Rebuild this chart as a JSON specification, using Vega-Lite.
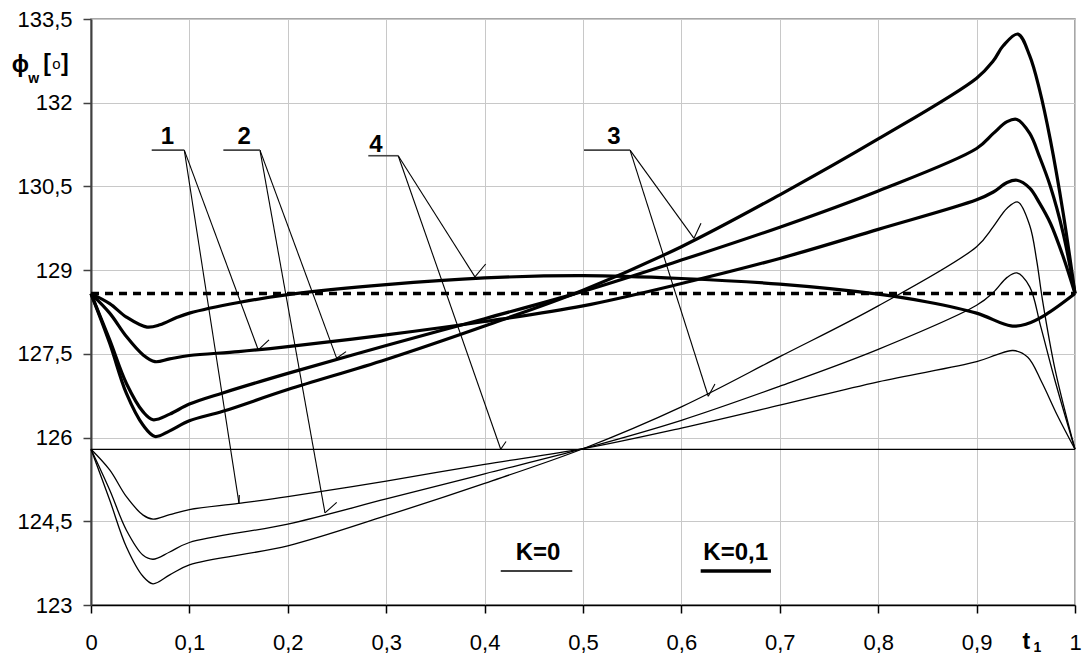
{
  "$schema": "https://vega.github.io/schema/vega-lite/v6.json",
  "width": 984,
  "height": 586,
  "autosize": {"type": "none"},
  "padding": {"left": 91, "top": 19, "right": 7, "bottom": 49},
  "background": "white",
  "config": {
    "view": {"stroke": "#8a8a8a", "strokeWidth": 1.5},
    "font": "Liberation Sans",
    "axis": {"gridColor": "#c8c8c8", "gridWidth": 1, "labelFont": "Liberation Sans", "labelFontSize": 22, "labelColor": "#000"}
  },
  "datasets": {
    "curves": [
      {"curve": "4", "k": "0,1", "t": 0, "v": 128.58},
      {"curve": "4", "k": "0,1", "t": 0.019, "v": 128.4},
      {"curve": "4", "k": "0,1", "t": 0.036, "v": 128.16},
      {"curve": "4", "k": "0,1", "t": 0.057, "v": 127.98},
      {"curve": "4", "k": "0,1", "t": 0.07, "v": 128.02},
      {"curve": "4", "k": "0,1", "t": 0.087, "v": 128.15},
      {"curve": "4", "k": "0,1", "t": 0.1, "v": 128.23},
      {"curve": "4", "k": "0,1", "t": 0.15, "v": 128.42},
      {"curve": "4", "k": "0,1", "t": 0.2, "v": 128.56},
      {"curve": "4", "k": "0,1", "t": 0.3, "v": 128.74},
      {"curve": "4", "k": "0,1", "t": 0.4, "v": 128.86},
      {"curve": "4", "k": "0,1", "t": 0.5, "v": 128.9},
      {"curve": "4", "k": "0,1", "t": 0.6, "v": 128.85},
      {"curve": "4", "k": "0,1", "t": 0.7, "v": 128.75},
      {"curve": "4", "k": "0,1", "t": 0.8, "v": 128.57},
      {"curve": "4", "k": "0,1", "t": 0.85, "v": 128.43},
      {"curve": "4", "k": "0,1", "t": 0.9, "v": 128.23},
      {"curve": "4", "k": "0,1", "t": 0.935, "v": 128.0},
      {"curve": "4", "k": "0,1", "t": 0.95, "v": 128.03},
      {"curve": "4", "k": "0,1", "t": 0.97, "v": 128.2},
      {"curve": "4", "k": "0,1", "t": 1.0, "v": 128.58},

      {"curve": "1", "k": "0,1", "t": 0, "v": 128.58},
      {"curve": "1", "k": "0,1", "t": 0.019, "v": 128.23},
      {"curve": "1", "k": "0,1", "t": 0.036, "v": 127.81},
      {"curve": "1", "k": "0,1", "t": 0.053, "v": 127.48},
      {"curve": "1", "k": "0,1", "t": 0.065, "v": 127.36},
      {"curve": "1", "k": "0,1", "t": 0.08, "v": 127.41},
      {"curve": "1", "k": "0,1", "t": 0.1, "v": 127.47},
      {"curve": "1", "k": "0,1", "t": 0.15, "v": 127.54},
      {"curve": "1", "k": "0,1", "t": 0.2, "v": 127.63},
      {"curve": "1", "k": "0,1", "t": 0.3, "v": 127.84},
      {"curve": "1", "k": "0,1", "t": 0.4, "v": 128.08},
      {"curve": "1", "k": "0,1", "t": 0.5, "v": 128.36},
      {"curve": "1", "k": "0,1", "t": 0.6, "v": 128.76},
      {"curve": "1", "k": "0,1", "t": 0.7, "v": 129.21},
      {"curve": "1", "k": "0,1", "t": 0.8, "v": 129.73},
      {"curve": "1", "k": "0,1", "t": 0.9, "v": 130.26},
      {"curve": "1", "k": "0,1", "t": 0.917, "v": 130.4},
      {"curve": "1", "k": "0,1", "t": 0.931, "v": 130.57},
      {"curve": "1", "k": "0,1", "t": 0.941, "v": 130.61},
      {"curve": "1", "k": "0,1", "t": 0.954, "v": 130.47},
      {"curve": "1", "k": "0,1", "t": 0.964, "v": 130.2},
      {"curve": "1", "k": "0,1", "t": 0.975, "v": 129.84},
      {"curve": "1", "k": "0,1", "t": 0.988, "v": 129.24},
      {"curve": "1", "k": "0,1", "t": 1.0, "v": 128.58},

      {"curve": "2", "k": "0,1", "t": 0, "v": 128.58},
      {"curve": "2", "k": "0,1", "t": 0.019, "v": 127.75},
      {"curve": "2", "k": "0,1", "t": 0.036, "v": 126.97},
      {"curve": "2", "k": "0,1", "t": 0.053, "v": 126.46},
      {"curve": "2", "k": "0,1", "t": 0.063, "v": 126.32},
      {"curve": "2", "k": "0,1", "t": 0.08, "v": 126.42},
      {"curve": "2", "k": "0,1", "t": 0.1, "v": 126.6},
      {"curve": "2", "k": "0,1", "t": 0.134, "v": 126.8},
      {"curve": "2", "k": "0,1", "t": 0.2, "v": 127.15},
      {"curve": "2", "k": "0,1", "t": 0.3, "v": 127.65},
      {"curve": "2", "k": "0,1", "t": 0.4, "v": 128.13},
      {"curve": "2", "k": "0,1", "t": 0.5, "v": 128.62},
      {"curve": "2", "k": "0,1", "t": 0.6, "v": 129.18},
      {"curve": "2", "k": "0,1", "t": 0.7, "v": 129.77},
      {"curve": "2", "k": "0,1", "t": 0.8, "v": 130.42},
      {"curve": "2", "k": "0,1", "t": 0.9, "v": 131.18},
      {"curve": "2", "k": "0,1", "t": 0.917, "v": 131.45},
      {"curve": "2", "k": "0,1", "t": 0.931, "v": 131.66},
      {"curve": "2", "k": "0,1", "t": 0.941, "v": 131.7},
      {"curve": "2", "k": "0,1", "t": 0.954, "v": 131.45},
      {"curve": "2", "k": "0,1", "t": 0.964, "v": 131.03},
      {"curve": "2", "k": "0,1", "t": 0.975, "v": 130.5},
      {"curve": "2", "k": "0,1", "t": 0.988, "v": 129.66},
      {"curve": "2", "k": "0,1", "t": 1.0, "v": 128.58},

      {"curve": "3", "k": "0,1", "t": 0, "v": 128.58},
      {"curve": "3", "k": "0,1", "t": 0.019, "v": 127.69},
      {"curve": "3", "k": "0,1", "t": 0.036, "v": 126.79},
      {"curve": "3", "k": "0,1", "t": 0.053, "v": 126.22},
      {"curve": "3", "k": "0,1", "t": 0.065, "v": 126.02},
      {"curve": "3", "k": "0,1", "t": 0.08, "v": 126.12},
      {"curve": "3", "k": "0,1", "t": 0.1, "v": 126.3},
      {"curve": "3", "k": "0,1", "t": 0.134, "v": 126.47},
      {"curve": "3", "k": "0,1", "t": 0.2, "v": 126.86},
      {"curve": "3", "k": "0,1", "t": 0.3, "v": 127.4},
      {"curve": "3", "k": "0,1", "t": 0.4, "v": 128.0},
      {"curve": "3", "k": "0,1", "t": 0.5, "v": 128.64},
      {"curve": "3", "k": "0,1", "t": 0.6, "v": 129.42},
      {"curve": "3", "k": "0,1", "t": 0.7, "v": 130.35},
      {"curve": "3", "k": "0,1", "t": 0.8, "v": 131.35},
      {"curve": "3", "k": "0,1", "t": 0.9, "v": 132.44},
      {"curve": "3", "k": "0,1", "t": 0.917, "v": 132.75},
      {"curve": "3", "k": "0,1", "t": 0.927, "v": 133.02},
      {"curve": "3", "k": "0,1", "t": 0.942, "v": 133.23},
      {"curve": "3", "k": "0,1", "t": 0.954, "v": 132.84},
      {"curve": "3", "k": "0,1", "t": 0.964, "v": 132.23},
      {"curve": "3", "k": "0,1", "t": 0.975, "v": 131.33},
      {"curve": "3", "k": "0,1", "t": 0.988, "v": 130.02},
      {"curve": "3", "k": "0,1", "t": 1.0, "v": 128.58},

      {"curve": "4", "k": "0", "t": 0, "v": 125.79},
      {"curve": "4", "k": "0", "t": 1, "v": 125.79},

      {"curve": "1", "k": "0", "t": 0, "v": 125.79},
      {"curve": "1", "k": "0", "t": 0.019, "v": 125.42},
      {"curve": "1", "k": "0", "t": 0.036, "v": 124.94},
      {"curve": "1", "k": "0", "t": 0.053, "v": 124.61},
      {"curve": "1", "k": "0", "t": 0.063, "v": 124.54},
      {"curve": "1", "k": "0", "t": 0.08, "v": 124.62},
      {"curve": "1", "k": "0", "t": 0.1, "v": 124.71},
      {"curve": "1", "k": "0", "t": 0.15, "v": 124.82},
      {"curve": "1", "k": "0", "t": 0.2, "v": 124.94},
      {"curve": "1", "k": "0", "t": 0.3, "v": 125.22},
      {"curve": "1", "k": "0", "t": 0.4, "v": 125.52},
      {"curve": "1", "k": "0", "t": 0.5, "v": 125.8},
      {"curve": "1", "k": "0", "t": 0.6, "v": 126.17},
      {"curve": "1", "k": "0", "t": 0.7, "v": 126.58},
      {"curve": "1", "k": "0", "t": 0.8, "v": 127.0},
      {"curve": "1", "k": "0", "t": 0.9, "v": 127.36},
      {"curve": "1", "k": "0", "t": 0.92, "v": 127.48},
      {"curve": "1", "k": "0", "t": 0.937, "v": 127.56},
      {"curve": "1", "k": "0", "t": 0.952, "v": 127.44},
      {"curve": "1", "k": "0", "t": 0.966, "v": 127.0},
      {"curve": "1", "k": "0", "t": 0.982, "v": 126.4},
      {"curve": "1", "k": "0", "t": 1.0, "v": 125.79},

      {"curve": "2", "k": "0", "t": 0, "v": 125.79},
      {"curve": "2", "k": "0", "t": 0.019, "v": 125.06},
      {"curve": "2", "k": "0", "t": 0.036, "v": 124.34},
      {"curve": "2", "k": "0", "t": 0.053, "v": 123.89},
      {"curve": "2", "k": "0", "t": 0.063, "v": 123.82},
      {"curve": "2", "k": "0", "t": 0.08, "v": 123.95},
      {"curve": "2", "k": "0", "t": 0.1, "v": 124.12},
      {"curve": "2", "k": "0", "t": 0.2, "v": 124.45},
      {"curve": "2", "k": "0", "t": 0.3, "v": 124.9},
      {"curve": "2", "k": "0", "t": 0.4, "v": 125.35},
      {"curve": "2", "k": "0", "t": 0.5, "v": 125.8},
      {"curve": "2", "k": "0", "t": 0.6, "v": 126.31},
      {"curve": "2", "k": "0", "t": 0.7, "v": 126.92},
      {"curve": "2", "k": "0", "t": 0.8, "v": 127.58},
      {"curve": "2", "k": "0", "t": 0.9, "v": 128.37},
      {"curve": "2", "k": "0", "t": 0.917, "v": 128.6},
      {"curve": "2", "k": "0", "t": 0.931, "v": 128.87},
      {"curve": "2", "k": "0", "t": 0.941, "v": 128.95},
      {"curve": "2", "k": "0", "t": 0.954, "v": 128.7},
      {"curve": "2", "k": "0", "t": 0.965, "v": 128.0},
      {"curve": "2", "k": "0", "t": 0.98, "v": 127.0},
      {"curve": "2", "k": "0", "t": 1.0, "v": 125.79},

      {"curve": "3", "k": "0", "t": 0, "v": 125.79},
      {"curve": "3", "k": "0", "t": 0.019, "v": 124.88},
      {"curve": "3", "k": "0", "t": 0.036, "v": 124.04},
      {"curve": "3", "k": "0", "t": 0.053, "v": 123.51},
      {"curve": "3", "k": "0", "t": 0.063, "v": 123.38},
      {"curve": "3", "k": "0", "t": 0.08, "v": 123.54},
      {"curve": "3", "k": "0", "t": 0.1, "v": 123.72},
      {"curve": "3", "k": "0", "t": 0.2, "v": 124.06},
      {"curve": "3", "k": "0", "t": 0.3, "v": 124.6},
      {"curve": "3", "k": "0", "t": 0.4, "v": 125.18},
      {"curve": "3", "k": "0", "t": 0.5, "v": 125.8},
      {"curve": "3", "k": "0", "t": 0.6, "v": 126.55},
      {"curve": "3", "k": "0", "t": 0.7, "v": 127.45},
      {"curve": "3", "k": "0", "t": 0.8, "v": 128.36},
      {"curve": "3", "k": "0", "t": 0.9, "v": 129.42},
      {"curve": "3", "k": "0", "t": 0.917, "v": 129.78},
      {"curve": "3", "k": "0", "t": 0.931, "v": 130.11},
      {"curve": "3", "k": "0", "t": 0.942, "v": 130.22},
      {"curve": "3", "k": "0", "t": 0.954, "v": 129.8},
      {"curve": "3", "k": "0", "t": 0.961, "v": 129.18},
      {"curve": "3", "k": "0", "t": 0.967, "v": 128.46},
      {"curve": "3", "k": "0", "t": 0.98, "v": 127.2},
      {"curve": "3", "k": "0", "t": 1.0, "v": 125.79}
    ],
    "reference": [
      {"t": 0, "v": 128.58},
      {"t": 1, "v": 128.58}
    ],
    "leaders": [
      {"x": 0.0948, "y": 131.15, "x2": 0.17, "y2": 127.57},
      {"x": 0.0948, "y": 131.15, "x2": 0.1504, "y2": 124.82},
      {"x": 0.1717, "y": 131.15, "x2": 0.2497, "y2": 127.42},
      {"x": 0.1717, "y": 131.15, "x2": 0.2378, "y2": 124.65},
      {"x": 0.3122, "y": 131.05, "x2": 0.3902, "y2": 128.88},
      {"x": 0.3122, "y": 131.05, "x2": 0.4164, "y2": 125.79},
      {"x": 0.5478, "y": 131.15, "x2": 0.6128, "y2": 129.57},
      {"x": 0.5478, "y": 131.15, "x2": 0.6273, "y2": 126.74},
      {"x": 0.17, "y": 127.57, "x2": 0.1809, "y2": 127.75},
      {"x": 0.1504, "y": 124.82, "x2": 0.1507, "y2": 124.97},
      {"x": 0.2497, "y": 127.42, "x2": 0.2592, "y2": 127.54},
      {"x": 0.2378, "y": 124.65, "x2": 0.2497, "y2": 124.84},
      {"x": 0.3902, "y": 128.88, "x2": 0.4011, "y2": 129.11},
      {"x": 0.4164, "y": 125.79, "x2": 0.4218, "y2": 125.93},
      {"x": 0.6128, "y": 129.57, "x2": 0.6199, "y2": 129.84},
      {"x": 0.6273, "y": 126.74, "x2": 0.6341, "y2": 126.96}
    ],
    "underlines": [
      {"x": 0.0617, "x2": 0.0948, "y": 131.15},
      {"x": 0.1345, "x2": 0.1717, "y": 131.15},
      {"x": 0.2818, "x2": 0.3122, "y": 131.05},
      {"x": 0.501, "x2": 0.5478, "y": 131.15}
    ],
    "keys": [
      {"k": "0", "x": 0.4164, "x2": 0.4891, "y": 123.61},
      {"k": "0,1", "x": 0.6196, "x2": 0.691, "y": 123.61}
    ],
    "labels": [
      {"text": "1", "x": 0.0777, "y": 131.26},
      {"text": "2", "x": 0.1557, "y": 131.26},
      {"text": "4", "x": 0.2895, "y": 131.12},
      {"text": "3", "x": 0.5315, "y": 131.26},
      {"text": "K=0", "x": 0.4543, "y": 123.8},
      {"text": "K=0,1", "x": 0.6552, "y": 123.8}
    ],
    "titles": [
      {"text": "ϕ", "x": -0.0806, "y": 132.55},
      {"text": "[", "x": -0.0485, "y": 132.56},
      {"text": "]", "x": -0.0305, "y": 132.56},
      {"text": "t", "x": 0.9466, "y": 122.21}
    ],
    "rings": [
      {"text": "o", "x": -0.0395, "y": 132.6}
    ],
    "subs": [
      {"text": "w", "x": -0.0638, "y": 132.36},
      {"text": "1", "x": 0.9578, "y": 122.16}
    ]
  },
  "layer": [
    {
      "data": {"name": "reference"},
      "mark": {"type": "line", "color": "black", "strokeWidth": 3.5, "strokeDash": [8, 6]},
      "encoding": {
        "x": {
          "field": "t", "type": "quantitative",
          "scale": {"domain": [0, 1], "nice": false, "zero": false},
          "axis": {
            "title": null,
            "values": [0, 0.1, 0.2, 0.3, 0.4, 0.5, 0.6, 0.7, 0.8, 0.9, 1],
            "labelExpr": "datum.value == 0 ? '0' : datum.value == 1 ? '1' : replace(format(datum.value, '.1f'), '.', ',')",
            "tickSize": 8, "tickColor": "#000", "tickWidth": 1.5,
            "domainColor": "#000", "domainWidth": 1.5,
            "labelPadding": 19, "labelFlush": false, "labelOverlap": false,
            "grid": true
          }
        },
        "y": {
          "field": "v", "type": "quantitative",
          "scale": {"domain": [123, 133.5], "nice": false, "zero": false},
          "axis": {
            "title": null,
            "values": [123, 124.5, 126, 127.5, 129, 130.5, 132, 133.5],
            "labelExpr": "datum.value % 1 == 0 ? format(datum.value, 'd') : replace(format(datum.value, '.1f'), '.', ',')",
            "tickSize": 8, "tickColor": "#404040", "tickWidth": 1.5,
            "domainColor": "#404040", "domainWidth": 2,
            "labelPadding": 11, "labelFlush": false, "labelOverlap": false,
            "grid": true
          }
        }
      }
    },
    {
      "data": {"name": "curves"},
      "transform": [{"filter": "datum.k == '0'"}],
      "mark": {"type": "line", "color": "black", "strokeWidth": 1.3, "interpolate": "catmull-rom"},
      "encoding": {
        "x": {"field": "t", "type": "quantitative"},
        "y": {"field": "v", "type": "quantitative"},
        "detail": {"field": "curve"}
      }
    },
    {
      "data": {"name": "curves"},
      "transform": [{"filter": "datum.k == '0,1'"}],
      "mark": {"type": "line", "color": "black", "strokeWidth": 3.2, "interpolate": "catmull-rom"},
      "encoding": {
        "x": {"field": "t", "type": "quantitative"},
        "y": {"field": "v", "type": "quantitative"},
        "detail": {"field": "curve"}
      }
    },
    {
      "data": {"name": "leaders"},
      "mark": {"type": "rule", "color": "black", "strokeWidth": 1.1},
      "encoding": {
        "x": {"field": "x", "type": "quantitative"},
        "y": {"field": "y", "type": "quantitative"},
        "x2": {"field": "x2"},
        "y2": {"field": "y2"}
      }
    },
    {
      "data": {"name": "underlines"},
      "mark": {"type": "rule", "color": "#444", "strokeWidth": 1.6},
      "encoding": {
        "x": {"field": "x", "type": "quantitative"},
        "x2": {"field": "x2"},
        "y": {"field": "y", "type": "quantitative"}
      }
    },
    {
      "data": {"name": "keys"},
      "transform": [{"filter": "datum.k == '0'"}],
      "mark": {"type": "rule", "color": "black", "strokeWidth": 1.5},
      "encoding": {
        "x": {"field": "x", "type": "quantitative"},
        "x2": {"field": "x2"},
        "y": {"field": "y", "type": "quantitative"}
      }
    },
    {
      "data": {"name": "keys"},
      "transform": [{"filter": "datum.k == '0,1'"}],
      "mark": {"type": "rule", "color": "black", "strokeWidth": 3.5},
      "encoding": {
        "x": {"field": "x", "type": "quantitative"},
        "x2": {"field": "x2"},
        "y": {"field": "y", "type": "quantitative"}
      }
    },
    {
      "data": {"name": "labels"},
      "mark": {"type": "text", "font": "Liberation Sans", "fontWeight": "bold", "fontSize": 24, "align": "center", "baseline": "alphabetic", "color": "black"},
      "encoding": {
        "x": {"field": "x", "type": "quantitative"},
        "y": {"field": "y", "type": "quantitative"},
        "text": {"field": "text"}
      }
    },
    {
      "data": {"name": "titles"},
      "mark": {"type": "text", "font": "Liberation Sans", "fontWeight": "bold", "fontSize": 23, "align": "left", "baseline": "alphabetic", "color": "black"},
      "encoding": {
        "x": {"field": "x", "type": "quantitative"},
        "y": {"field": "y", "type": "quantitative"},
        "text": {"field": "text"}
      }
    },
    {
      "data": {"name": "rings"},
      "mark": {"type": "text", "font": "Liberation Sans", "fontWeight": "normal", "fontSize": 15, "align": "left", "baseline": "alphabetic", "color": "black"},
      "encoding": {
        "x": {"field": "x", "type": "quantitative"},
        "y": {"field": "y", "type": "quantitative"},
        "text": {"field": "text"}
      }
    },
    {
      "data": {"name": "subs"},
      "mark": {"type": "text", "font": "Liberation Sans", "fontWeight": "bold", "fontSize": 14, "align": "left", "baseline": "alphabetic", "color": "black"},
      "encoding": {
        "x": {"field": "x", "type": "quantitative"},
        "y": {"field": "y", "type": "quantitative"},
        "text": {"field": "text"}
      }
    }
  ]
}
